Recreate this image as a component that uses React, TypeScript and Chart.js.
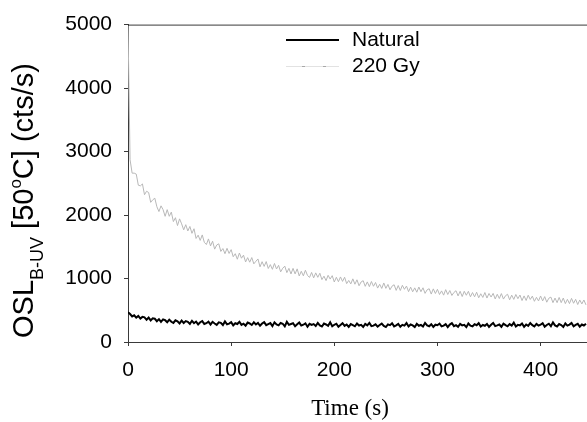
import React, { useEffect, useRef } from 'react';
import { Chart, registerables } from 'chart.js';

Chart.register(...registerables);

// Sampling interval of the readings (s)
const TIME_STEP = 2;

// Natural OSL signal (cts/s), one reading every TIME_STEP s from t = 0
const NATURAL = [
  470, 440, 402, 421, 384, 410, 370, 396, 388, 350,
  384, 340, 372, 366, 328, 360, 318, 355, 344, 312,
  352, 318, 300, 342, 326, 292, 336, 300, 330, 318,
  285, 334, 296, 322, 278, 312, 330, 284, 296, 320,
  276, 318, 292, 270, 310, 302, 268, 324, 280, 290,
  312, 262, 296, 284, 318, 270, 288, 258, 306, 292,
  268, 310, 276, 300, 256, 292, 314, 266, 282, 298,
  250, 310, 276, 262, 300, 288, 246, 318, 270, 284,
  296, 248, 280, 306, 258, 272, 294, 240, 286, 268,
  282, 252, 300, 262, 244, 290, 276, 256, 310, 248,
  272, 288, 240, 268, 296, 254, 276, 238, 282, 266,
  248, 292, 260, 270, 236, 284, 262, 300, 250, 258,
  280, 242, 268, 290, 254, 236, 278, 266, 296, 246,
  262, 284, 240, 270, 258, 298, 244, 276, 262, 236,
  286, 256, 270, 244, 300, 262, 248, 280, 238, 272,
  264, 290, 246, 258, 282, 236, 274, 296, 250, 266,
  240, 284, 262, 270, 234, 292, 258, 246, 280, 264,
  296, 244, 268, 256, 284, 238, 272, 300, 250, 262,
  276, 240, 290, 266, 248, 282, 258, 306, 244, 270,
  262, 290, 238, 276, 254, 300, 266, 246, 284, 258,
  272, 296, 240, 268, 288, 250, 310, 262, 244, 282,
  266, 238, 292, 258, 274, 300, 248, 270, 286, 242,
  276, 260, 288,
];

// 220 Gy regenerated OSL signal (cts/s), same sampling
const GY220 = [
  4980, 2870, 2660, 2660, 2645, 2470, 2460, 2490, 2320, 2375,
  2355, 2200, 2240, 2265, 2130, 2055, 2145, 2085, 1980, 2085,
  1980, 2046, 1897, 1958, 1834, 1940, 1861, 1767, 1848, 1749,
  1820, 1712, 1784, 1631, 1683, 1600, 1687, 1570, 1535, 1624,
  1514, 1588, 1463, 1528, 1547, 1427, 1472, 1391, 1476, 1395,
  1455, 1343, 1391, 1304, 1402, 1320, 1368, 1261, 1329, 1257,
  1330, 1231, 1272, 1308, 1184, 1265, 1191, 1267, 1158, 1219,
  1145, 1237, 1150, 1208, 1105, 1162, 1195, 1093, 1160, 1072,
  1160, 1073, 1152, 1040, 1114, 1042, 1131, 1049, 1018, 1096,
  1010, 1089, 1019, 1083, 983, 1037, 967, 1051, 991, 1045,
  945, 1020, 950, 1025, 955, 1020, 920, 970, 915, 995,
  910, 980, 886, 946, 966, 877, 947, 872, 953, 878,
  938, 849, 909, 844, 930, 845, 907, 823, 880, 902,
  813, 890, 811, 893, 830, 881, 793, 864, 791, 853,
  784, 866, 792, 854, 766, 822, 839, 755, 837, 764,
  830, 748, 805, 738, 825, 748, 811, 733, 781, 808,
  726, 799, 716, 799, 736, 799, 712, 779, 712, 784,
  697, 760, 702, 780, 692, 765, 708, 766, 679, 752,
  685, 763, 676, 729, 752, 665, 738, 671, 749, 682,
  740, 653, 726, 654, 737, 670, 723, 641, 704, 647,
  725, 647, 715, 627, 690, 707, 620, 692, 620, 702,
  620, 692, 605, 672, 605, 687, 610, 672, 590, 662,
  600, 662, 585,
];

const SERIES_LABELS = ['Natural', '220 Gy'];
const X_TICKS = [0, 100, 200, 300, 400];
const Y_TICKS = [0, 1000, 2000, 3000, 4000, 5000];
const X_MIN = 0;
const X_MAX = 445;
const Y_MIN = 0;
const Y_MAX = 5000;
const X_TITLE = 'Time (s)';
const Y_TITLE_PARTS = [
  { text: 'OSL', kind: 'main' },
  { text: 'B-UV', kind: 'sub' },
  { text: ' [50', kind: 'main' },
  { text: 'o', kind: 'sup' },
  { text: 'C] (cts/s)', kind: 'main' },
];

const SANS = "'Liberation Sans', Arial, Helvetica, sans-serif";
const SERIF = "'Liberation Serif', 'Times New Roman', serif";
const AXIS_COLOR = '#3a3a3a';

const toPoints = (values: number[]) =>
  values.map((v, i) => ({ x: i * TIME_STEP, y: v }));

const decorPlugin = {
  id: 'decor',
  afterDraw(chart: any) {
    const { ctx, chartArea } = chart;
    ctx.save();
    // top frame line
    ctx.strokeStyle = AXIS_COLOR;
    ctx.lineWidth = 1;
    ctx.beginPath();
    ctx.moveTo(chartArea.left, chartArea.top + 0.5);
    ctx.lineTo(chartArea.right, chartArea.top + 0.5);
    ctx.stroke();

    // legend
    const ds = chart.data.datasets;
    const lx0 = 286, lx1 = 339, tx = 352;
    const rows = [40, 66];
    ctx.font = `21px ${SANS}`;
    ctx.textBaseline = 'middle';
    ctx.textAlign = 'left';
    ctx.fillStyle = '#000';
    // Natural
    ctx.strokeStyle = ds[0].borderColor;
    ctx.lineWidth = 2;
    ctx.beginPath();
    ctx.moveTo(lx0, rows[0]);
    ctx.lineTo(lx1, rows[0]);
    ctx.stroke();
    ctx.fillText(ds[0].label, tx, rows[0]);
    // 220 Gy
    ctx.strokeStyle = '#e2e2e2';
    ctx.lineWidth = 1;
    ctx.beginPath();
    ctx.moveTo(lx0, rows[1] + 0.5);
    ctx.lineTo(lx1, rows[1] + 0.5);
    ctx.stroke();
    ctx.strokeStyle = '#a8a8a8';
    ctx.setLineDash([3, 18]);
    ctx.lineDashOffset = -16;
    ctx.beginPath();
    ctx.moveTo(lx0, rows[1] + 0.5);
    ctx.lineTo(lx1, rows[1] + 0.5);
    ctx.stroke();
    ctx.setLineDash([]);
    ctx.fillText(ds[1].label, tx, rows[1]);

    // x title
    ctx.font = `23px ${SERIF}`;
    ctx.textAlign = 'center';
    ctx.textBaseline = 'middle';
    ctx.fillText(X_TITLE, 350, 409);

    // y title (rotated, with subscript / superscript)
    ctx.translate(33, 338);
    ctx.rotate(-Math.PI / 2);
    ctx.textAlign = 'left';
    ctx.textBaseline = 'alphabetic';
    let u = 0;
    for (const p of Y_TITLE_PARTS) {
      let size = 29;
      let shift = 0;
      if (p.kind === 'sub') { size = 18; shift = 10; }
      if (p.kind === 'sup') { size = 17; shift = -12; }
      ctx.font = `${size}px ${SANS}`;
      ctx.fillText(p.text, u, shift);
      u += ctx.measureText(p.text).width;
    }
    ctx.restore();
  },
};

export default function App() {
  const canvasRef = useRef<HTMLCanvasElement | null>(null);

  useEffect(() => {
    document.body.style.margin = '0';
    const canvas = canvasRef.current;
    if (!canvas) return;
    const tickFont = { family: SANS, size: 21 };
    const chart = new Chart(canvas, {
      type: 'line',
      data: {
        datasets: [
          {
            label: SERIES_LABELS[0],
            data: toPoints(NATURAL),
            borderColor: '#000000',
            borderWidth: 2,
            pointRadius: 0,
            tension: 0,
            order: 0,
          },
          {
            label: SERIES_LABELS[1],
            data: toPoints(GY220),
            borderColor: '#b8b8b8',
            borderWidth: 1,
            pointRadius: 0,
            tension: 0,
            order: 1,
          },
        ],
      },
      options: {
        responsive: false,
        animation: false,
        devicePixelRatio: 1,
        layout: { padding: { top: 20, right: 0, left: 0, bottom: 0 } },
        plugins: {
          legend: { display: false },
          tooltip: { enabled: false },
          title: { display: false },
        },
        scales: {
          x: {
            type: 'linear',
            min: X_MIN,
            max: X_MAX,
            afterBuildTicks: (s: any) => {
              s.ticks = X_TICKS.map((v) => ({ value: v }));
            },
            afterFit: (s: any) => {
              s.height = 80;
            },
            grid: {
              display: true,
              drawOnChartArea: false,
              drawTicks: true,
              tickLength: 4,
              tickColor: AXIS_COLOR,
              color: AXIS_COLOR,
            },
            border: { display: true, color: AXIS_COLOR, width: 1 },
            ticks: {
              font: tickFont,
              color: '#000',
              padding: 12,
              maxRotation: 0,
              autoSkip: false,
              callback: (v: any) => String(v),
            },
          },
          y: {
            type: 'linear',
            min: Y_MIN,
            max: Y_MAX,
            afterBuildTicks: (s: any) => {
              s.ticks = Y_TICKS.map((v) => ({ value: v }));
            },
            afterFit: (s: any) => {
              s.width = 128;
            },
            grid: {
              display: true,
              drawOnChartArea: false,
              drawTicks: true,
              tickLength: 4,
              tickColor: AXIS_COLOR,
              color: AXIS_COLOR,
            },
            border: { display: true, color: AXIS_COLOR, width: 1 },
            ticks: {
              font: tickFont,
              color: '#000',
              padding: 12,
              autoSkip: false,
              callback: (v: any) => String(v),
            },
          },
        },
      },
      plugins: [decorPlugin],
    } as any);
    return () => chart.destroy();
  }, []);

  return (
    <div style={{ position: 'absolute', left: 0, top: 0, width: 587, height: 422, background: '#fff' }}>
      <canvas ref={canvasRef} width={587} height={422} style={{ display: 'block' }} />
    </div>
  );
}
